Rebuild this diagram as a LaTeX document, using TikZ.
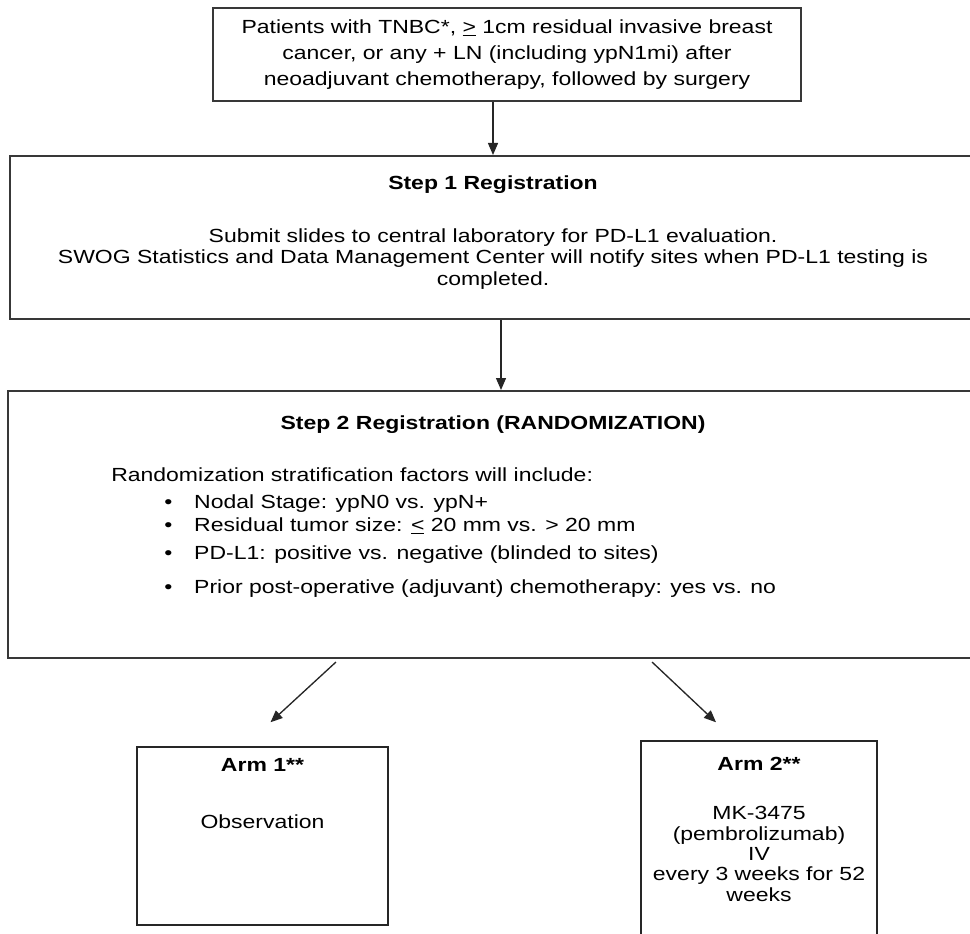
\documentclass[tikz,border=0pt]{standalone}
\usepackage{fontspec}
\setmainfont{Liberation Sans}[FakeStretch=1.21]
\usetikzlibrary{arrows.meta}

\begin{document}
\begin{tikzpicture}[
  x=0.75pt, y=-0.75pt,
  font=\fontsize{14.25pt}{16pt}\selectfont,
  frame/.style={draw=black!78, line width=1.5pt, inner sep=0pt},
  armbox/.style={draw=black!85, line width=1.1pt, inner sep=0pt},
  txt/.style={inner sep=0pt, align=center},
  head/.style={inner sep=0pt, font=\fontsize{14.25pt}{16pt}\selectfont\bfseries, anchor=base},
  item/.style={inner sep=0pt, anchor=base west},
  arr/.style={-{Triangle[length=9pt,width=7.5pt]}, line width=1pt, black!85},
]
\useasboundingbox (0,0) rectangle (970,934);

% ---------------- Eligibility ----------------
\node[frame, align=center, minimum width=441pt, minimum height=69.75pt,
      font=\fontsize{14.25pt}{19.4pt}\selectfont] (elig) at (507,54.5)
  {Patients with TNBC*, \underline{>} 1cm residual invasive breast\\
   cancer, or any + LN (including ypN1mi) after\\
   neoadjuvant chemotherapy, followed by surgery};

% ---------------- Step 1 ----------------
\node[frame, minimum width=724.5pt, minimum height=122.25pt] (reg1) at (493,237.5) {};
\node[head] (reg1head) at (493,190) {Step 1 Registration};
\node[txt, font=\fontsize{14.25pt}{16.2pt}\selectfont] (reg1text) at (493,259)
  {Submit slides to central laboratory for PD-L1 evaluation.\\
   SWOG Statistics and Data Management Center will notify sites when PD-L1 testing is\\
   completed.};

% ---------------- Step 2 ----------------
\node[frame, minimum width=727.5pt, minimum height=200.25pt] (reg2) at (493,524.5) {};
\node[head] (reg2head) at (493,429.5) {Step 2 Registration (RANDOMIZATION)};
\node[item] (strat) at (111,481.5) {Randomization stratification factors will include:};
\node[item] (nodal) at (164,508.8) {\makebox[22.5pt][l]{\textbullet}Nodal Stage: ypN0 vs. ypN+};
\node[item] (tumor) at (164,531.8) {\makebox[22.5pt][l]{\textbullet}Residual tumor size: \underline{<} 20 mm vs. > 20 mm};
\node[item] (pdl)   at (164,559.8) {\makebox[22.5pt][l]{\textbullet}PD-L1: positive vs. negative (blinded to sites)};
\node[item] (prior) at (164,593.8) {\makebox[22.5pt][l]{\textbullet}Prior post-operative (adjuvant) chemotherapy: yes vs. no};

% ---------------- Arms ----------------
\node[armbox, minimum width=188.25pt, minimum height=133.5pt] (arm1) at (262.5,836) {};
\node[head] (arm1head) at (262.5,771) {Arm 1**};
\node[inner sep=0pt, anchor=base] (arm1text) at (262.5,828) {Observation};

\node[armbox, minimum width=177pt, minimum height=156.75pt] (arm2) at (759,845.5) {};
\node[head] (arm2head) at (759,770) {Arm 2**};
\node[txt, font=\fontsize{14.25pt}{15.3pt}\selectfont] (arm2text) at (759,854)
  {MK-3475\\ (pembrolizumab)\\ IV\\ every 3 weeks for 52\\ weeks};

% ---------------- Arrows ----------------
\draw[arr] ([xshift=-10.5pt]elig.south) -- (reg1.north);
\draw[arr] ([xshift=6pt]reg1.south) -- ([xshift=6pt]reg2.north);
\draw[arr] ([xshift=-117.75pt,yshift=-2.25pt]reg2.south) -- ([xshift=6pt,yshift=18pt]arm1.north);
\draw[arr] ([xshift=119.25pt,yshift=-2.25pt]reg2.south) -- ([xshift=-32.25pt,yshift=13.5pt]arm2.north);

\end{tikzpicture}
\end{document}
